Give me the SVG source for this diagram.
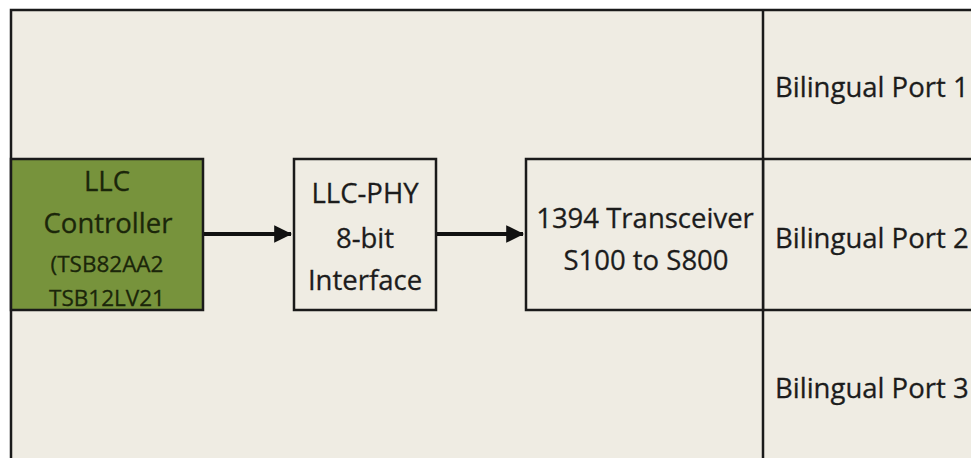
<svg xmlns="http://www.w3.org/2000/svg" width="971" height="458" viewBox="0 0 971 458">
<style>
.t{font-family:"Open Sans","Liberation Sans",sans-serif;font-size:27.5px;fill:#1c1c1c;stroke:#1c1c1c;stroke-width:0.3;text-anchor:middle}
.tl{text-anchor:start}
.g{fill:#1b260a;stroke:#1b260a}
.s{font-size:22.5px}
.box{fill:#EFECE3;stroke:#1a1a1a;stroke-width:2.5}
.ln{stroke:#1a1a1a;stroke-width:2.5;fill:none}
.ar{stroke:#111;stroke-width:4;fill:none}
</style>
<defs>
<marker id="ah" markerWidth="4.5" markerHeight="4.4" refX="4.2" refY="2.2" orient="auto" markerUnits="strokeWidth">
<path d="M0,0 L4.5,2.2 L0,4.4 Z" fill="#111"/>
</marker>
</defs>
<rect x="0" y="0" width="971" height="458" fill="#ffffff"/>
<g id="frame">
<rect x="11" y="10" width="980" height="470" fill="#EFECE3" stroke="#1a1a1a" stroke-width="2.5"/>
<line class="ln" x1="763" y1="10" x2="763" y2="458"/>
<line class="ln" x1="763" y1="159" x2="971" y2="159"/>
<line class="ln" x1="763" y1="310" x2="971" y2="310"/>
</g>
<g id="llc">
<rect x="11" y="159" width="192" height="151" fill="#77933C" stroke="#1a1a1a" stroke-width="2.5"/>
<text class="t g" x="107" y="191">LLC</text>
<text class="t g" x="108" y="233">Controller</text>
<text class="t g s" x="107" y="272">(TSB82AA2</text>
<text class="t g s" x="107" y="306">TSB12LV21</text>
</g>
<g id="phy">
<rect class="box" x="294" y="159" width="142" height="151"/>
<text class="t" x="365" y="203">LLC-PHY</text>
<text class="t" x="365" y="248">8-bit</text>
<text class="t" x="365" y="290">Interface</text>
</g>
<g id="transceiver">
<rect class="box" x="526" y="159" width="237" height="151"/>
<text class="t" x="645" y="228">1394 Transceiver</text>
<text class="t" x="646" y="270">S100 to S800</text>
</g>
<g id="port1"><text class="t tl" x="775" y="97">Bilingual Port 1</text></g>
<g id="port2"><text class="t tl" x="775" y="248">Bilingual Port 2</text></g>
<g id="port3"><text class="t tl" x="775" y="398">Bilingual Port 3</text></g>
<g id="connectors">
<line class="ar" x1="204" y1="234" x2="291" y2="234" marker-end="url(#ah)"/>
<line class="ar" x1="437" y1="234" x2="523" y2="234" marker-end="url(#ah)"/>
</g>
</svg>
